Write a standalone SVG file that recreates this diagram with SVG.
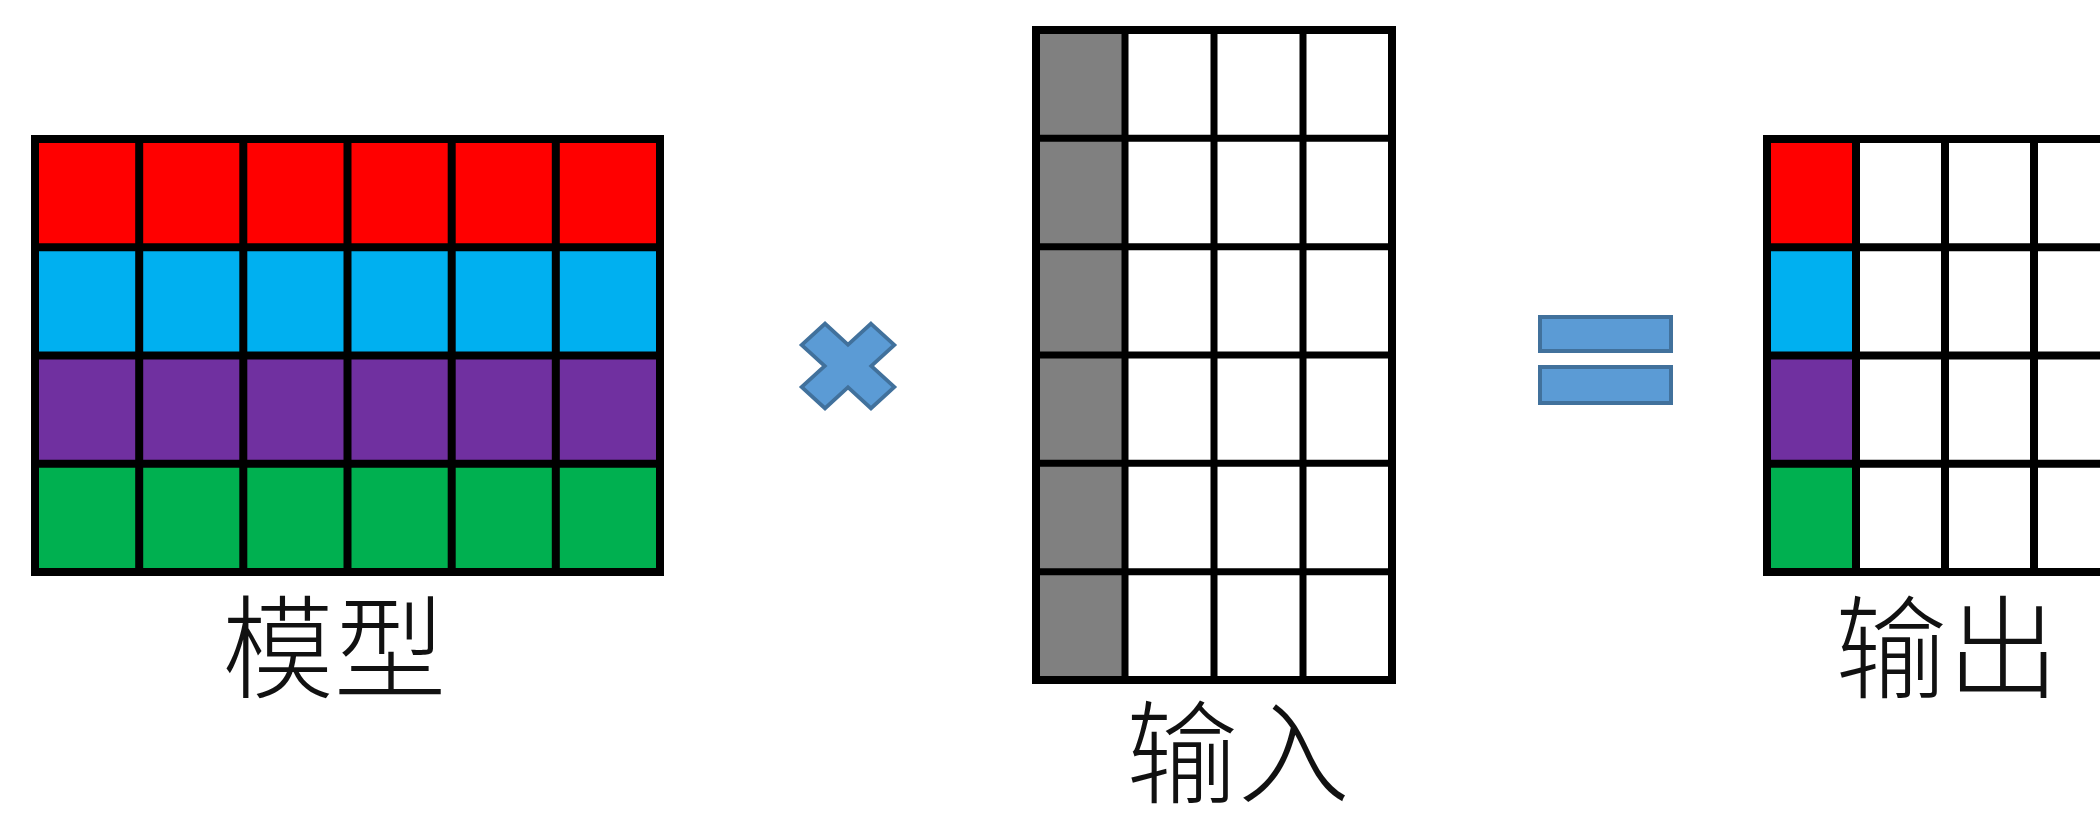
<svg xmlns="http://www.w3.org/2000/svg" width="2100" height="813" viewBox="0 0 2100 813">
  <style>
    .grid { fill: none; stroke: #000; stroke-width: 8; stroke-linecap: square; }
    .gridThin { fill: none; stroke: #000; stroke-width: 7; }
    .lbl { font-family: "Noto Sans CJK SC", "Noto Sans", sans-serif; font-size: 112px; font-weight: 300; fill: #111; text-anchor: middle; }
    .op { fill: #5b9bd5; stroke: #41719c; stroke-width: 4; }
    .red { fill: #ff0000; } .blue { fill: #00b0f0; } .purple { fill: #7030a0; } .green { fill: #00b050; } .gray { fill: #808080; } .white { fill: #ffffff; }
  </style>
  <rect width="2100" height="813" fill="#ffffff"/>

  <g id="model">
    <rect class="red" x="35" y="139" width="625" height="108.25"/>
    <rect class="blue" x="35" y="247.25" width="625" height="108.25"/>
    <rect class="purple" x="35" y="355.5" width="625" height="108.25"/>
    <rect class="green" x="35" y="463.75" width="625" height="108.25"/>
    <path class="grid" d="M139.2,139V572 M243.3,139V572 M347.5,139V572 M451.7,139V572 M555.8,139V572 M35,247.25H660 M35,355.5H660 M35,463.75H660"/>
    <rect class="grid" x="35" y="139" width="625" height="433"/>
    <text class="lbl" x="334" y="690">模型</text>
  </g>

  <g id="times">
    <polygon class="op" transform="translate(848,366) scale(1,0.914) rotate(45)" points="-16.5,-49 16.5,-49 16.5,-16.5 49,-16.5 49,16.5 16.5,16.5 16.5,49 -16.5,49 -16.5,16.5 -49,16.5 -49,-16.5 -16.5,-16.5"/>
  </g>

  <g id="input">
    <rect class="gray" x="1036" y="30" width="89" height="650"/>
    <path class="gridThin" d="M1125,30V680 M1214,30V680 M1303,30V680 M1036,138.3H1392 M1036,246.7H1392 M1036,355H1392 M1036,463.3H1392 M1036,571.7H1392"/>
    <rect class="grid" x="1036" y="30" width="356" height="650"/>
    <text class="lbl" x="1238" y="795">输入</text>
  </g>

  <g id="equals">
    <rect class="op" x="1540" y="317" width="131" height="34"/>
    <rect class="op" x="1540" y="367" width="131" height="36"/>
  </g>

  <g id="output">
    <rect class="red" x="1767" y="139" width="89" height="108.25"/>
    <rect class="blue" x="1767" y="247.25" width="89" height="108.25"/>
    <rect class="purple" x="1767" y="355.5" width="89" height="108.25"/>
    <rect class="green" x="1767" y="463.75" width="89" height="108.25"/>
    <path class="grid" d="M1856,139V572 M1945,139V572 M2034,139V572 M1767,247.25H2123 M1767,355.5H2123 M1767,463.75H2123"/>
    <rect class="grid" x="1767" y="139" width="356" height="433"/>
    <text class="lbl" x="1947" y="690">输出</text>
  </g>

  <g id="connectors"/>
</svg>
